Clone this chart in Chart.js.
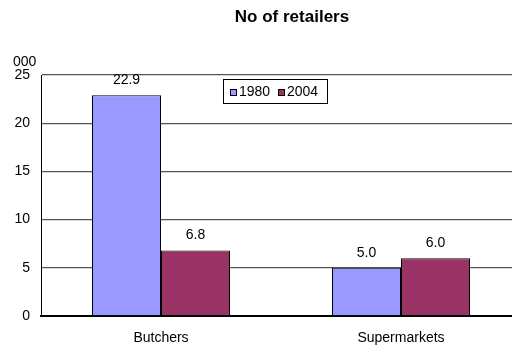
<!DOCTYPE html>
<html>
<head>
<meta charset="utf-8">
<script src="https://cdn.jsdelivr.net/npm/chart.js@4/dist/chart.umd.min.js"></script>
<style>
  html, body { margin: 0; padding: 0; background: #fff; overflow: hidden; }
  #wrap { width: 512px; height: 345px; overflow: hidden; position: relative; }
  #box { width: 530px; height: 345px; }
</style>
</head>
<body>
<div id="wrap"><div id="box"><canvas id="plot"></canvas></div></div>
<script>
const categories = ["Butchers", "Supermarkets"];
const years = ["1980", "2004"];
const values1980 = [22.9, 5.0];
const values2004 = [6.8, 6.0];
const yTicks = [0, 5, 10, 15, 20, 25];

const FONT = "'Liberation Sans', Arial, sans-serif";

// values above bars, title, unit label and boxed legend
const extras = {
  id: "extras",
  afterDraw(chart) {
    const c = chart.ctx;
    c.save();
    c.fillStyle = "#000";
    c.font = "14px " + FONT;
    c.textAlign = "center";
    c.textBaseline = "middle";
    chart.data.datasets.forEach((ds, i) => {
      chart.getDatasetMeta(i).data.forEach((bar, j) => {
        c.fillText(ds.data[j].toFixed(1), bar.x, bar.y - 15);
      });
    });

    c.font = "bold 17px " + FONT;
    c.fillText("No of retailers", 292, 17);

    c.font = "14px " + FONT;
    c.textAlign = "left";
    c.fillText("000", 13, 62);

    // legend
    const lx = 223, ly = 79, lw = 104, lh = 24;
    c.fillStyle = "#fff";
    c.fillRect(lx, ly, lw, lh);
    c.strokeStyle = "#000";
    c.lineWidth = 1;
    c.strokeRect(lx + 0.5, ly + 0.5, lw, lh);
    let x = lx + 7;
    chart.data.datasets.forEach(ds => {
      c.fillStyle = ds.backgroundColor;
      c.fillRect(x, ly + 10, 6, 6);
      c.strokeRect(x + 0.5, ly + 10.5, 6, 6);
      c.fillStyle = "#000";
      c.textAlign = "left";
      c.fillText(ds.label, x + 9, ly + 13);
      x += 48;
    });
    c.restore();
  }
};

new Chart(document.getElementById("plot"), {
  type: "bar",
  data: {
    labels: categories,
    datasets: [
      { label: years[0], data: values1980, backgroundColor: "#9999FF", borderColor: "#000", borderWidth: 1 },
      { label: years[1], data: values2004, backgroundColor: "#993366", borderColor: "#000", borderWidth: 1 }
    ]
  },
  options: {
    responsive: true,
    maintainAspectRatio: false,
    animation: false,
    layout: { padding: { top: 75, right: 9, left: 0, bottom: 0 } },
    datasets: { bar: { categoryPercentage: 0.575, barPercentage: 1.0 } },
    plugins: {
      legend: { display: false },
      tooltip: { enabled: false },
      title: { display: false }
    },
    scales: {
      x: {
        grid: { display: false },
        border: { color: "#000", width: 2 },
        ticks: { color: "#000", font: { family: FONT, size: 14 }, padding: 6 },
        afterFit(s) { s.height = 29; }
      },
      y: {
        min: 0,
        max: 25,
        afterBuildTicks(s) { s.ticks = yTicks.map(v => ({ value: v })); },
        grid: { color: "#555", lineWidth: 1.3, drawTicks: false },
        border: { color: "#000", width: 1 },
        ticks: { color: "#000", font: { family: FONT, size: 14 }, padding: 11 },
        afterFit(s) { s.width = 41; }
      }
    }
  },
  plugins: [extras]
});
</script>
</body>
</html>
